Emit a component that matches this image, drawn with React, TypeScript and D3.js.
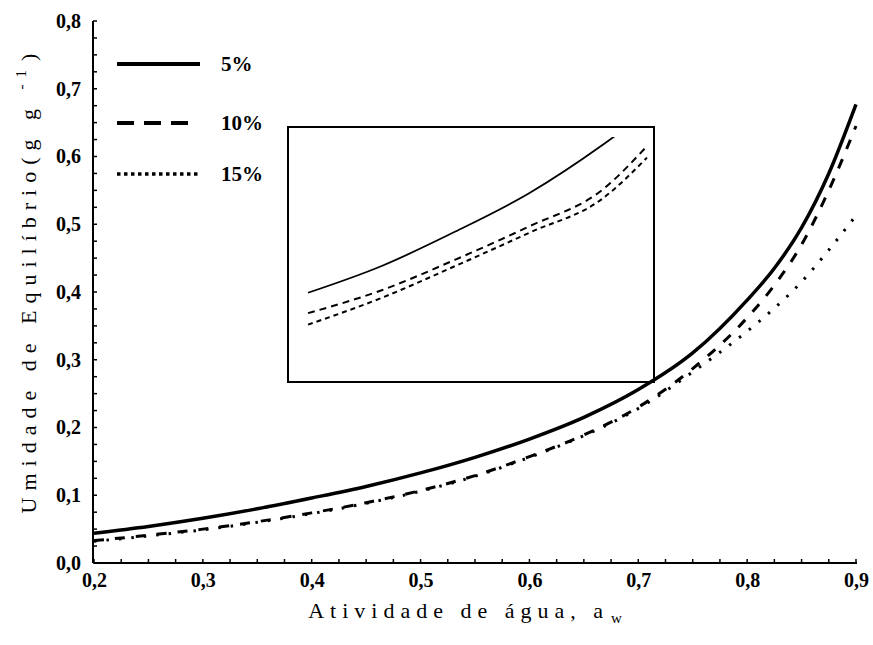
import { useEffect, useRef } from 'react'
import * as d3 from 'd3'

// water activity values where the curves were read
const aw = [0.2, 0.25, 0.3, 0.35, 0.4, 0.45, 0.5, 0.55, 0.6, 0.65, 0.7, 0.75, 0.8, 0.825, 0.85, 0.875, 0.9]
const s5 = [0.044, 0.054, 0.066, 0.08, 0.096, 0.113, 0.133, 0.156, 0.183, 0.215, 0.256, 0.31, 0.388, 0.435, 0.495, 0.575, 0.677]
const s10 = [0.033, 0.041, 0.05, 0.061, 0.074, 0.089, 0.107, 0.129, 0.157, 0.189, 0.23, 0.287, 0.362, 0.41, 0.47, 0.55, 0.645]
const s15 = [0.032, 0.04, 0.049, 0.06, 0.073, 0.088, 0.106, 0.128, 0.156, 0.188, 0.228, 0.282, 0.342, 0.376, 0.415, 0.462, 0.513]

// inset (magnified view)
const insetAw = [0.5, 0.55, 0.6, 0.65, 0.7, 0.73]
const inset5 = [0.17, 0.191, 0.218, 0.248, 0.286, 0.312]
const inset10 = [0.154, 0.172, 0.196, 0.222, 0.251, 0.285]
const inset15 = [0.145, 0.166, 0.191, 0.217, 0.244, 0.276]

const xTicks = [0.2, 0.3, 0.4, 0.5, 0.6, 0.7, 0.8, 0.9]
const yTicks = [0, 0.1, 0.2, 0.3, 0.4, 0.5, 0.6, 0.7, 0.8]
const legendLabels = ['5%', '10%', '15%']

const width = 873
const height = 645

const App = () => {
  const svgRef = useRef<SVGSVGElement | null>(null)

  useEffect(() => {
    const svg = d3.select(svgRef.current)
    svg.selectAll('*').remove()

    const x = d3.scaleLinear([0.2, 0.9], [94, 856])
    const y = d3.scaleLinear([0, 0.8], [563, 21])
    const fmt = (d: number) => d3.format('.1f')(d).replace('.', ',')
    const serif = '"Liberation Serif", serif'

    const series = [
      { values: s5, width: 3.5, dash: null, legendDash: null, lw: 4 },
      { values: s10, width: 3, dash: '10 11', legendDash: '17 10', lw: 4 },
      { values: s15, width: 3, dash: '2.5 10', legendDash: '3.5 3.5', lw: 3.5 },
    ]

    const line = (vals: number[]) =>
      d3
        .line<number>()
        .x((d, i) => x(aw[i]))
        .y((d) => y(d))
        .curve(d3.curveMonotoneX)(vals)

    // x axis
    const minorX = d3.range(0.2, 0.9001, 0.025)
    const gx = svg.append('g').attr('transform', `translate(0,${y(0)})`)
    gx.call(d3.axisBottom(x).tickValues(xTicks).tickFormat(fmt as any).tickSize(0).tickPadding(10))
      .call((g) => g.select('.domain').attr('stroke', '#000').attr('stroke-width', 2).attr('d', `M${x(0.2)},0H${x(0.9) + 1}`))
      .call((g) =>
        g.selectAll('.tick text').attr('font-family', serif).attr('font-weight', 'bold').attr('font-size', 20).attr('fill', '#000')
      )
    gx.selectAll('line.minor')
      .data(minorX)
      .join('line')
      .attr('x1', (d) => x(d))
      .attr('x2', (d) => x(d))
      .attr('y1', 0)
      .attr('y2', -4)
      .attr('stroke', '#000')
      .attr('stroke-width', 1.5)

    // y axis
    const minorY = d3.range(0, 0.8001, 0.025)
    const gy = svg.append('g').attr('transform', `translate(${x(0.2) - 1},0)`)
    gy.call(d3.axisLeft(y).tickValues(yTicks).tickFormat(fmt as any).tickSize(0).tickPadding(12))
      .call((g) => g.select('.domain').attr('stroke', '#000').attr('stroke-width', 2).attr('d', `M0,${y(0)}V${y(0.8)}`))
      .call((g) =>
        g.selectAll('.tick text').attr('font-family', serif).attr('font-weight', 'bold').attr('font-size', 20).attr('fill', '#000')
      )
    gy.selectAll('line.minor')
      .data(minorY)
      .join('line')
      .attr('x1', 0)
      .attr('x2', 4)
      .attr('y1', (d) => y(d))
      .attr('y2', (d) => y(d))
      .attr('stroke', '#000')
      .attr('stroke-width', 1.5)

    // curves
    series.forEach((s) => {
      svg
        .append('path')
        .attr('d', line(s.values))
        .attr('fill', 'none')
        .attr('stroke', '#000')
        .attr('stroke-width', s.width)
        .attr('stroke-dasharray', s.dash)
    })

    // legend
    const legendY = [64, 123, 174]
    series.forEach((s, i) => {
      svg
        .append('line')
        .attr('x1', 117)
        .attr('x2', i === 1 ? 188 : 200)
        .attr('y1', legendY[i])
        .attr('y2', legendY[i])
        .attr('stroke', '#000')
        .attr('stroke-width', s.lw)
        .attr('stroke-dasharray', s.legendDash)
      svg
        .append('text')
        .attr('x', 221)
        .attr('y', legendY[i] + 7)
        .attr('font-family', serif)
        .attr('font-weight', 'bold')
        .attr('font-size', 21)
        .text(legendLabels[i])
    })

    // inset
    const ix = d3.scaleLinear([0.5, 0.73], [308, 647])
    const iy = d3.scaleLinear([0.1, 0.3], [382, 127])
    svg
      .append('clipPath')
      .attr('id', 'insetClip')
      .append('rect')
      .attr('x', 289)
      .attr('y', 137)
      .attr('width', 364)
      .attr('height', 244)
    const inset = svg.append('g').attr('clip-path', 'url(#insetClip)')
    const iline = (vals: number[]) =>
      d3
        .line<number>()
        .x((d, i) => ix(insetAw[i]))
        .y((d) => iy(d))
        .curve(d3.curveMonotoneX)(vals)
    inset.append('path').attr('d', iline(inset5)).attr('fill', 'none').attr('stroke', '#000').attr('stroke-width', 1.8)
    inset
      .append('path')
      .attr('d', iline(inset10))
      .attr('fill', 'none')
      .attr('stroke', '#000')
      .attr('stroke-width', 2)
      .attr('stroke-dasharray', '7 5')
    inset
      .append('path')
      .attr('d', iline(inset15))
      .attr('fill', 'none')
      .attr('stroke', '#000')
      .attr('stroke-width', 2)
      .attr('stroke-dasharray', '5 4')
    svg
      .append('rect')
      .attr('x', 288)
      .attr('y', 127)
      .attr('width', 366)
      .attr('height', 255)
      .attr('fill', 'none')
      .attr('stroke', '#000')
      .attr('stroke-width', 2)

    // axis titles
    const xt = svg
      .append('text')
      .attr('x', 468)
      .attr('y', 618)
      .attr('text-anchor', 'middle')
      .attr('font-family', serif)
      .attr('font-size', 22)
      .attr('letter-spacing', 6)
    xt.append('tspan').text('Atividade de água, a')
    xt.append('tspan').attr('font-size', 15).attr('dy', 5).attr('dx', 2).text('w')

    const yt = svg
      .append('text')
      .attr('transform', 'translate(36,280) rotate(-90)')
      .attr('text-anchor', 'middle')
      .attr('font-family', serif)
      .attr('font-size', 22)
      .attr('letter-spacing', 7)
    yt.append('tspan').text('Umidade de Equilíbrio(g g ')
    yt.append('tspan').attr('font-size', 15).attr('dy', -10).text('-1')
    yt.append('tspan').attr('dy', 10).attr('dx', 2).text(')')
  }, [])

  return (
    <svg
      ref={svgRef}
      width={width}
      height={height}
      style={{ position: 'absolute', left: 0, top: 0, background: '#fff' }}
    />
  )
}

export default App
